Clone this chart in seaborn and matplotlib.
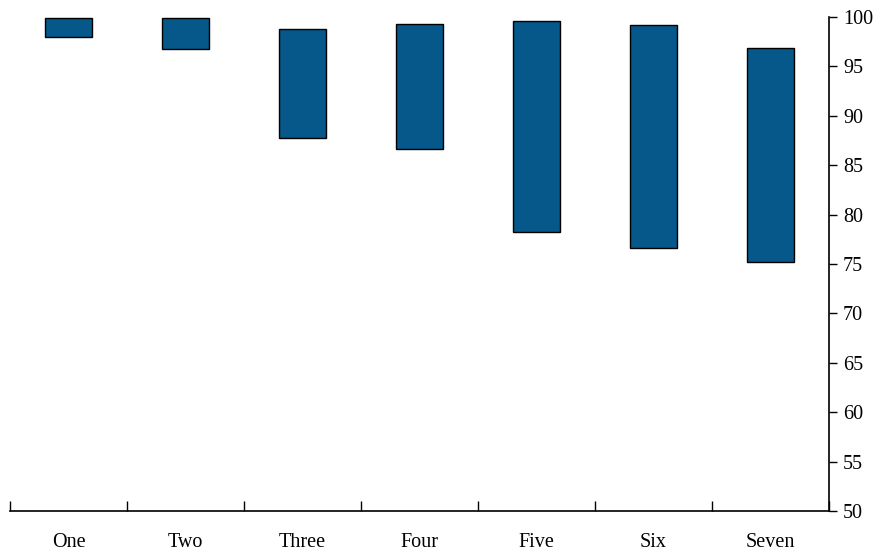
import numpy as np
import pandas as pd
import matplotlib
matplotlib.use('Agg')
import matplotlib.pyplot as plt
import seaborn as sns

# Data
categories = ['One', 'Two', 'Three', 'Four', 'Five', 'Six', 'Seven']
highs = [99.9, 99.9, 98.8, 99.3, 99.6, 99.15, 96.9]
lows = [98.0, 96.8, 87.75, 86.6, 78.2, 76.65, 75.2]

df = pd.DataFrame({'cat': categories, 'high': highs, 'low': lows})
df['span'] = df['high'] - df['low']

sns.set_style('white')
plt.rcParams['font.family'] = ['Liberation Serif', 'DejaVu Serif']
plt.rcParams['text.color'] = 'black'
plt.rcParams['xtick.color'] = 'black'
plt.rcParams['ytick.color'] = 'black'

fig = plt.figure(figsize=(8.8, 5.55), dpi=100)
ax = fig.add_axes([10 / 880, 44 / 555, 819 / 880, 494 / 555])

sns.barplot(data=df, x='cat', y='span', bottom=df['low'], color='#06578a',
            saturation=1, width=0.4, edgecolor='black', linewidth=1, ax=ax)

ax.set_ylim(50, 100)
ax.set_xlim(-0.5, len(categories) - 0.5)
ax.set_yticks(np.arange(50, 101, 5))
ax.yaxis.tick_right()
ax.tick_params(axis='y', direction='out', length=6, width=1, labelsize=14.5,
               pad=4, right=True, left=False, colors='black')

# category labels centered, ticks at boundaries
ax.set_xticks(np.arange(-0.5, len(categories), 1.0))
ax.set_xticklabels([])
ax.set_xticks(np.arange(len(categories)), minor=True)
ax.set_xticklabels(categories, minor=True)
ax.tick_params(axis='x', which='major', direction='in', length=7, width=1,
               bottom=True, colors='black')
ax.tick_params(axis='x', which='minor', length=0, labelsize=14.5, pad=16,
               colors='black')

ax.set_xlabel('')
ax.set_ylabel('')
for s in ['top', 'left']:
    ax.spines[s].set_visible(False)
for s in ['right', 'bottom']:
    ax.spines[s].set_color('black')
    ax.spines[s].set_linewidth(1.2)

fig.savefig('out.png', dpi=100)
